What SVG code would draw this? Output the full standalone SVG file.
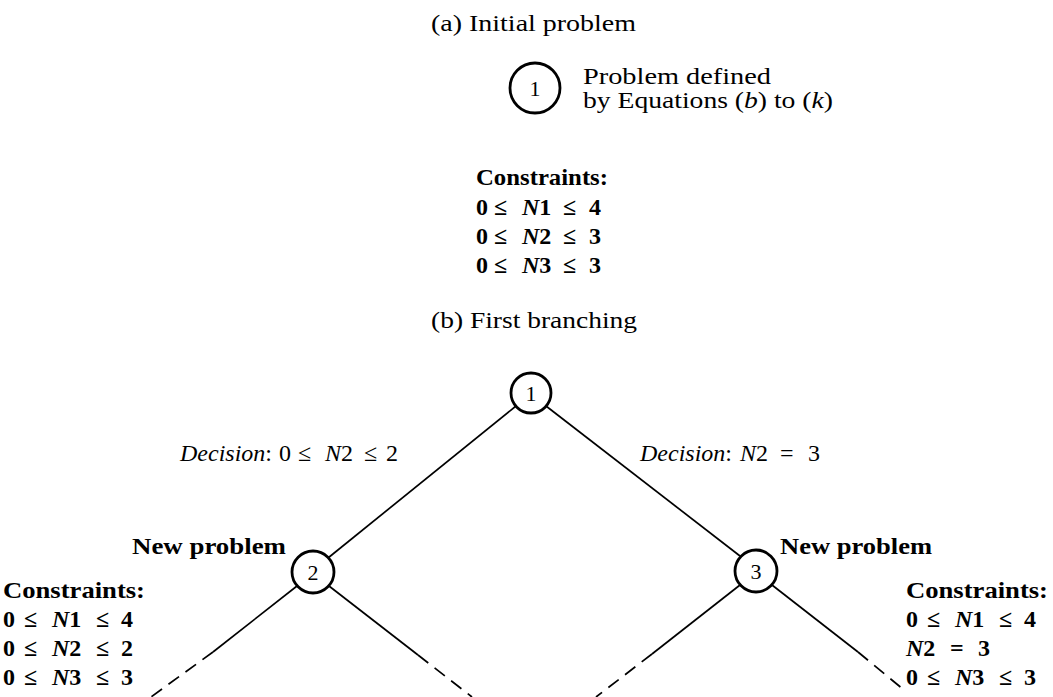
<svg xmlns="http://www.w3.org/2000/svg" width="1053" height="697" viewBox="0 0 1053 697">
<defs>
<style>
text{font-family:"Liberation Serif","Times New Roman",serif;fill:#000;font-size:24px}
.b{font-weight:bold}
.i{font-style:italic}
.node circle{fill:none;stroke:#000;stroke-width:2.8}
.num{font-size:22px;text-anchor:middle}
.edge{stroke:#000;stroke-width:1.7;fill:none}
.dash{stroke:#000;stroke-width:1.7;fill:none;stroke-dasharray:13 8}
</style>
</defs>
<rect width="1053" height="697" fill="#fff"/>
<text x="431" y="31" textLength="205" lengthAdjust="spacingAndGlyphs">(a) Initial problem</text>
<g id="nodeA1" class="node">
<circle cx="535" cy="88" r="25"/>
<text class="num" x="535" y="96">1</text>
</g>
<text x="583" y="84" textLength="188" lengthAdjust="spacingAndGlyphs">Problem defined</text>
<text x="583" y="108" textLength="250" lengthAdjust="spacingAndGlyphs">by Equations (<tspan class="i">b</tspan>) to (<tspan class="i">k</tspan>)</text>
<g class="b">
<text x="476" y="185" textLength="132" lengthAdjust="spacingAndGlyphs">Constraints:</text>
<text y="215"><tspan x="476">0</tspan><tspan x="494">≤</tspan><tspan x="522" class="i">N</tspan><tspan>1</tspan><tspan x="563">≤</tspan><tspan x="589">4</tspan></text>
<text y="244"><tspan x="476">0</tspan><tspan x="494">≤</tspan><tspan x="522" class="i">N</tspan><tspan>2</tspan><tspan x="563">≤</tspan><tspan x="589">3</tspan></text>
<text y="273"><tspan x="476">0</tspan><tspan x="494">≤</tspan><tspan x="522" class="i">N</tspan><tspan>3</tspan><tspan x="563">≤</tspan><tspan x="589">3</tspan></text>
</g>
<text x="431" y="328" textLength="206" lengthAdjust="spacingAndGlyphs">(b) First branching</text>
<g id="connectors">
<line class="edge" x1="516" y1="406" x2="328" y2="558"/>
<line class="edge" x1="546" y1="406" x2="740" y2="556"/>
<line class="edge" x1="297" y1="586" x2="213" y2="652"/>
<line class="dash" x1="213" y1="652" x2="151" y2="697"/>
<line class="edge" x1="329" y1="586" x2="418" y2="655"/>
<line class="dash" x1="418" y1="655" x2="472" y2="697"/>
<line class="edge" x1="740" y1="585" x2="652" y2="654"/>
<line class="dash" x1="652" y1="654" x2="596" y2="697"/>
<line class="edge" x1="772" y1="585" x2="858" y2="652"/>
<line class="dash" x1="858" y1="652" x2="904" y2="690"/>
</g>
<g id="node1" class="node">
<circle cx="531" cy="393" r="20"/>
<text class="num" x="531" y="401">1</text>
</g>
<g id="node2" class="node">
<circle cx="313" cy="572" r="21"/>
<text class="num" x="313" y="580">2</text>
</g>
<g id="node3" class="node">
<circle cx="756" cy="571" r="21"/>
<text class="num" x="756" y="579">3</text>
</g>
<text y="461"><tspan x="180" class="i">Decision</tspan><tspan>:</tspan><tspan x="279">0</tspan><tspan x="298">≤</tspan><tspan x="325" class="i">N</tspan><tspan>2</tspan><tspan x="364">≤</tspan><tspan x="386">2</tspan></text>
<text y="461"><tspan x="640" class="i">Decision</tspan><tspan>:</tspan><tspan x="740" class="i">N</tspan><tspan>2</tspan><tspan x="780">=</tspan><tspan x="808">3</tspan></text>
<text class="b" x="286" y="554" text-anchor="end" textLength="154" lengthAdjust="spacingAndGlyphs">New problem</text>
<text class="b" x="780" y="554" textLength="152" lengthAdjust="spacingAndGlyphs">New problem</text>
<g class="b">
<text x="3" y="598" textLength="142" lengthAdjust="spacingAndGlyphs">Constraints:</text>
<text y="627"><tspan x="3">0</tspan><tspan x="24">≤</tspan><tspan x="52" class="i">N</tspan><tspan>1</tspan><tspan x="96">≤</tspan><tspan x="121">4</tspan></text>
<text y="656"><tspan x="3">0</tspan><tspan x="24">≤</tspan><tspan x="52" class="i">N</tspan><tspan>2</tspan><tspan x="96">≤</tspan><tspan x="121">2</tspan></text>
<text y="685"><tspan x="3">0</tspan><tspan x="24">≤</tspan><tspan x="52" class="i">N</tspan><tspan>3</tspan><tspan x="96">≤</tspan><tspan x="121">3</tspan></text>
</g>
<g class="b">
<text x="906" y="598" textLength="142" lengthAdjust="spacingAndGlyphs">Constraints:</text>
<text y="627"><tspan x="906">0</tspan><tspan x="927">≤</tspan><tspan x="955" class="i">N</tspan><tspan>1</tspan><tspan x="999">≤</tspan><tspan x="1024">4</tspan></text>
<text y="656"><tspan x="906" class="i">N</tspan><tspan>2</tspan><tspan x="950">=</tspan><tspan x="978">3</tspan></text>
<text y="685"><tspan x="906">0</tspan><tspan x="927">≤</tspan><tspan x="955" class="i">N</tspan><tspan>3</tspan><tspan x="999">≤</tspan><tspan x="1024">3</tspan></text>
</g>
</svg>
